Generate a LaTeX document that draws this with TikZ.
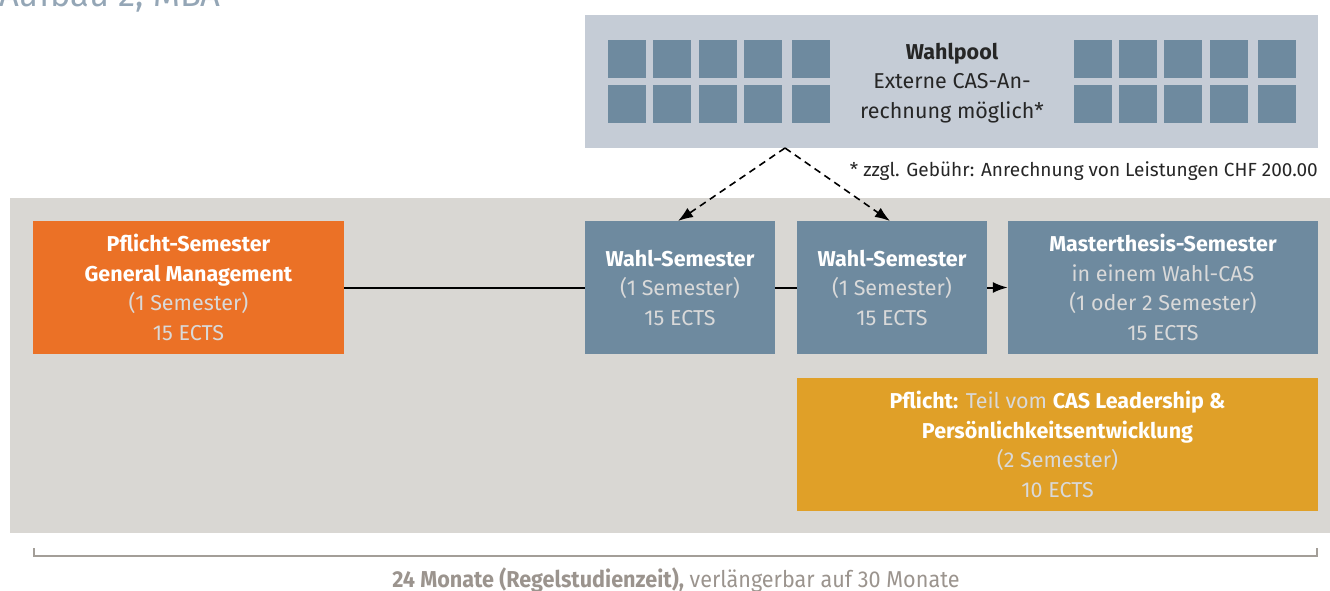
\documentclass[tikz,border=0pt]{standalone}
\usepackage{fontspec}
\setmainfont{Fira Sans}
\newfontfamily\regfont{Fira Sans}
\newfontfamily\condfont{Fira Sans}[FakeStretch=0.94]
\usetikzlibrary{arrows.meta}
\definecolor{poolbg}{HTML}{C5CCD6}
\definecolor{slate}{HTML}{6E8A9F}
\definecolor{band}{HTML}{D9D7D3}
\definecolor{orng}{HTML}{EB7126}
\definecolor{gold}{HTML}{E0A028}
\definecolor{darktxt}{HTML}{262626}
\definecolor{greytxt}{HTML}{9B948E}
\definecolor{brack}{HTML}{A39E98}
\definecolor{titlecol}{HTML}{94A6B6}
\tikzset{
  box/.style={rectangle, inner sep=0pt, minimum height=133pt, align=center,
    text=white, font=\fontsize{21.5}{29.5}\selectfont},
  sq/.style={rectangle, fill=slate, inner sep=0pt, minimum width=38pt, minimum height=38pt},
  flow/.style={line width=2pt, black},
  dasharr/.style={line width=1.6pt, dash pattern=on 7pt off 5pt, -{Latex[length=15pt,width=11pt]}},
}
\newcommand{\lt}[1]{\textcolor{white!85!black}{#1}}
\begin{document}
\begin{tikzpicture}[x=1pt,y=-1pt]
\useasboundingbox (0,0) rectangle (1330,590);
% title (cut off at top, as in the reference)
\node[anchor=base west, inner sep=0pt, text=titlecol, font=\fontsize{34.5}{34.5}\selectfont] (title) at (-1,6) {Aufbau 2, MBA};
% Wahlpool
\node[rectangle, fill=poolbg, inner sep=0pt, minimum width=733pt, minimum height=133pt] (pool) at (951.5,81.5) {};
\foreach \i/\x in {1/627,2/672,3/718,4/763,5/811}{
  \node[sq] (la\i) at (\x,59) {};
  \node[sq] (lb\i) at (\x,104) {};
}
\foreach \i/\x in {1/1093,2/1138,3/1183,4/1228.5,5/1277}{
  \node[sq] (ra\i) at (\x,59) {};
  \node[sq] (rb\i) at (\x,104) {};
}
\node[align=center, text=darktxt, font=\regfont\fontsize{21.5}{29.5}\selectfont] (pooltext) at (952,83) {\textbf{Wahlpool}\\Externe CAS-An-\\rechnung möglich*};
\node[anchor=base east, inner sep=0pt, text=darktxt, font=\regfont\fontsize{19}{20}\selectfont] (note) at (1318,176) {* zzgl. Gebühr: Anrechnung von Leistungen CHF 200.00};
% band
\node[rectangle, fill=band, inner sep=0pt, minimum width=1320pt, minimum height=335pt] (band) at (670,365.5) {};
% boxes
\node[box, fill=orng, minimum width=311pt] (pflicht) at (188.5,287.5) {\textbf{Pflicht-Semester}\\\textbf{General Management}\\\lt{(1 Semester)}\\\lt{15 ECTS}};
\node[box, fill=slate, minimum width=190pt] (w1) at (680,287.5) {\textbf{Wahl-Semester}\\\lt{(1 Semester)}\\\lt{15 ECTS}};
\node[box, fill=slate, minimum width=190pt] (w2) at (892,287.5) {\textbf{Wahl-Semester}\\\lt{(1 Semester)}\\\lt{15 ECTS}};
\node[box, fill=slate, minimum width=310pt] (master) at (1163,287.5) {\textbf{Masterthesis-Semester}\\\lt{in einem Wahl-CAS}\\\lt{(1 oder 2 Semester)}\\\lt{15 ECTS}};
\node[box, fill=gold, minimum width=521pt] (lead) at (1057.5,444.5) {\textbf{Pflicht:} \lt{Teil vom} \textbf{CAS Leadership \&}\\\textbf{Persönlichkeitsentwicklung}\\\lt{(2 Semester)}\\\lt{10 ECTS}};
% connectors
\draw[flow] (pflicht.east) -- (w1.west);
\draw[flow] (w1.east) -- (w2.west);
\draw[flow, -{Latex[length=15pt,width=11pt]}] (w2.east) -- (master.west);
\coordinate (poolsrc) at (785,148);
\coordinate (w1top) at (678,221);
\coordinate (w2top) at (890,221);
\draw[dasharr] (poolsrc) -- (w1top);
\draw[dasharr] (poolsrc) -- (w2top);
% duration bracket
\coordinate (bl) at (34,548);
\coordinate (br) at (1317,548);
\draw[brack, line width=2pt] (bl) -- (34,556) -- (1317,556) -- (br);
\node[anchor=base, inner sep=0pt, text=greytxt, font=\condfont\fontsize{23}{24}\selectfont] (dur) at (676,587) {\textbf{24 Monate (Regelstudienzeit),} verlängerbar auf 30 Monate};
\end{tikzpicture}
\end{document}
